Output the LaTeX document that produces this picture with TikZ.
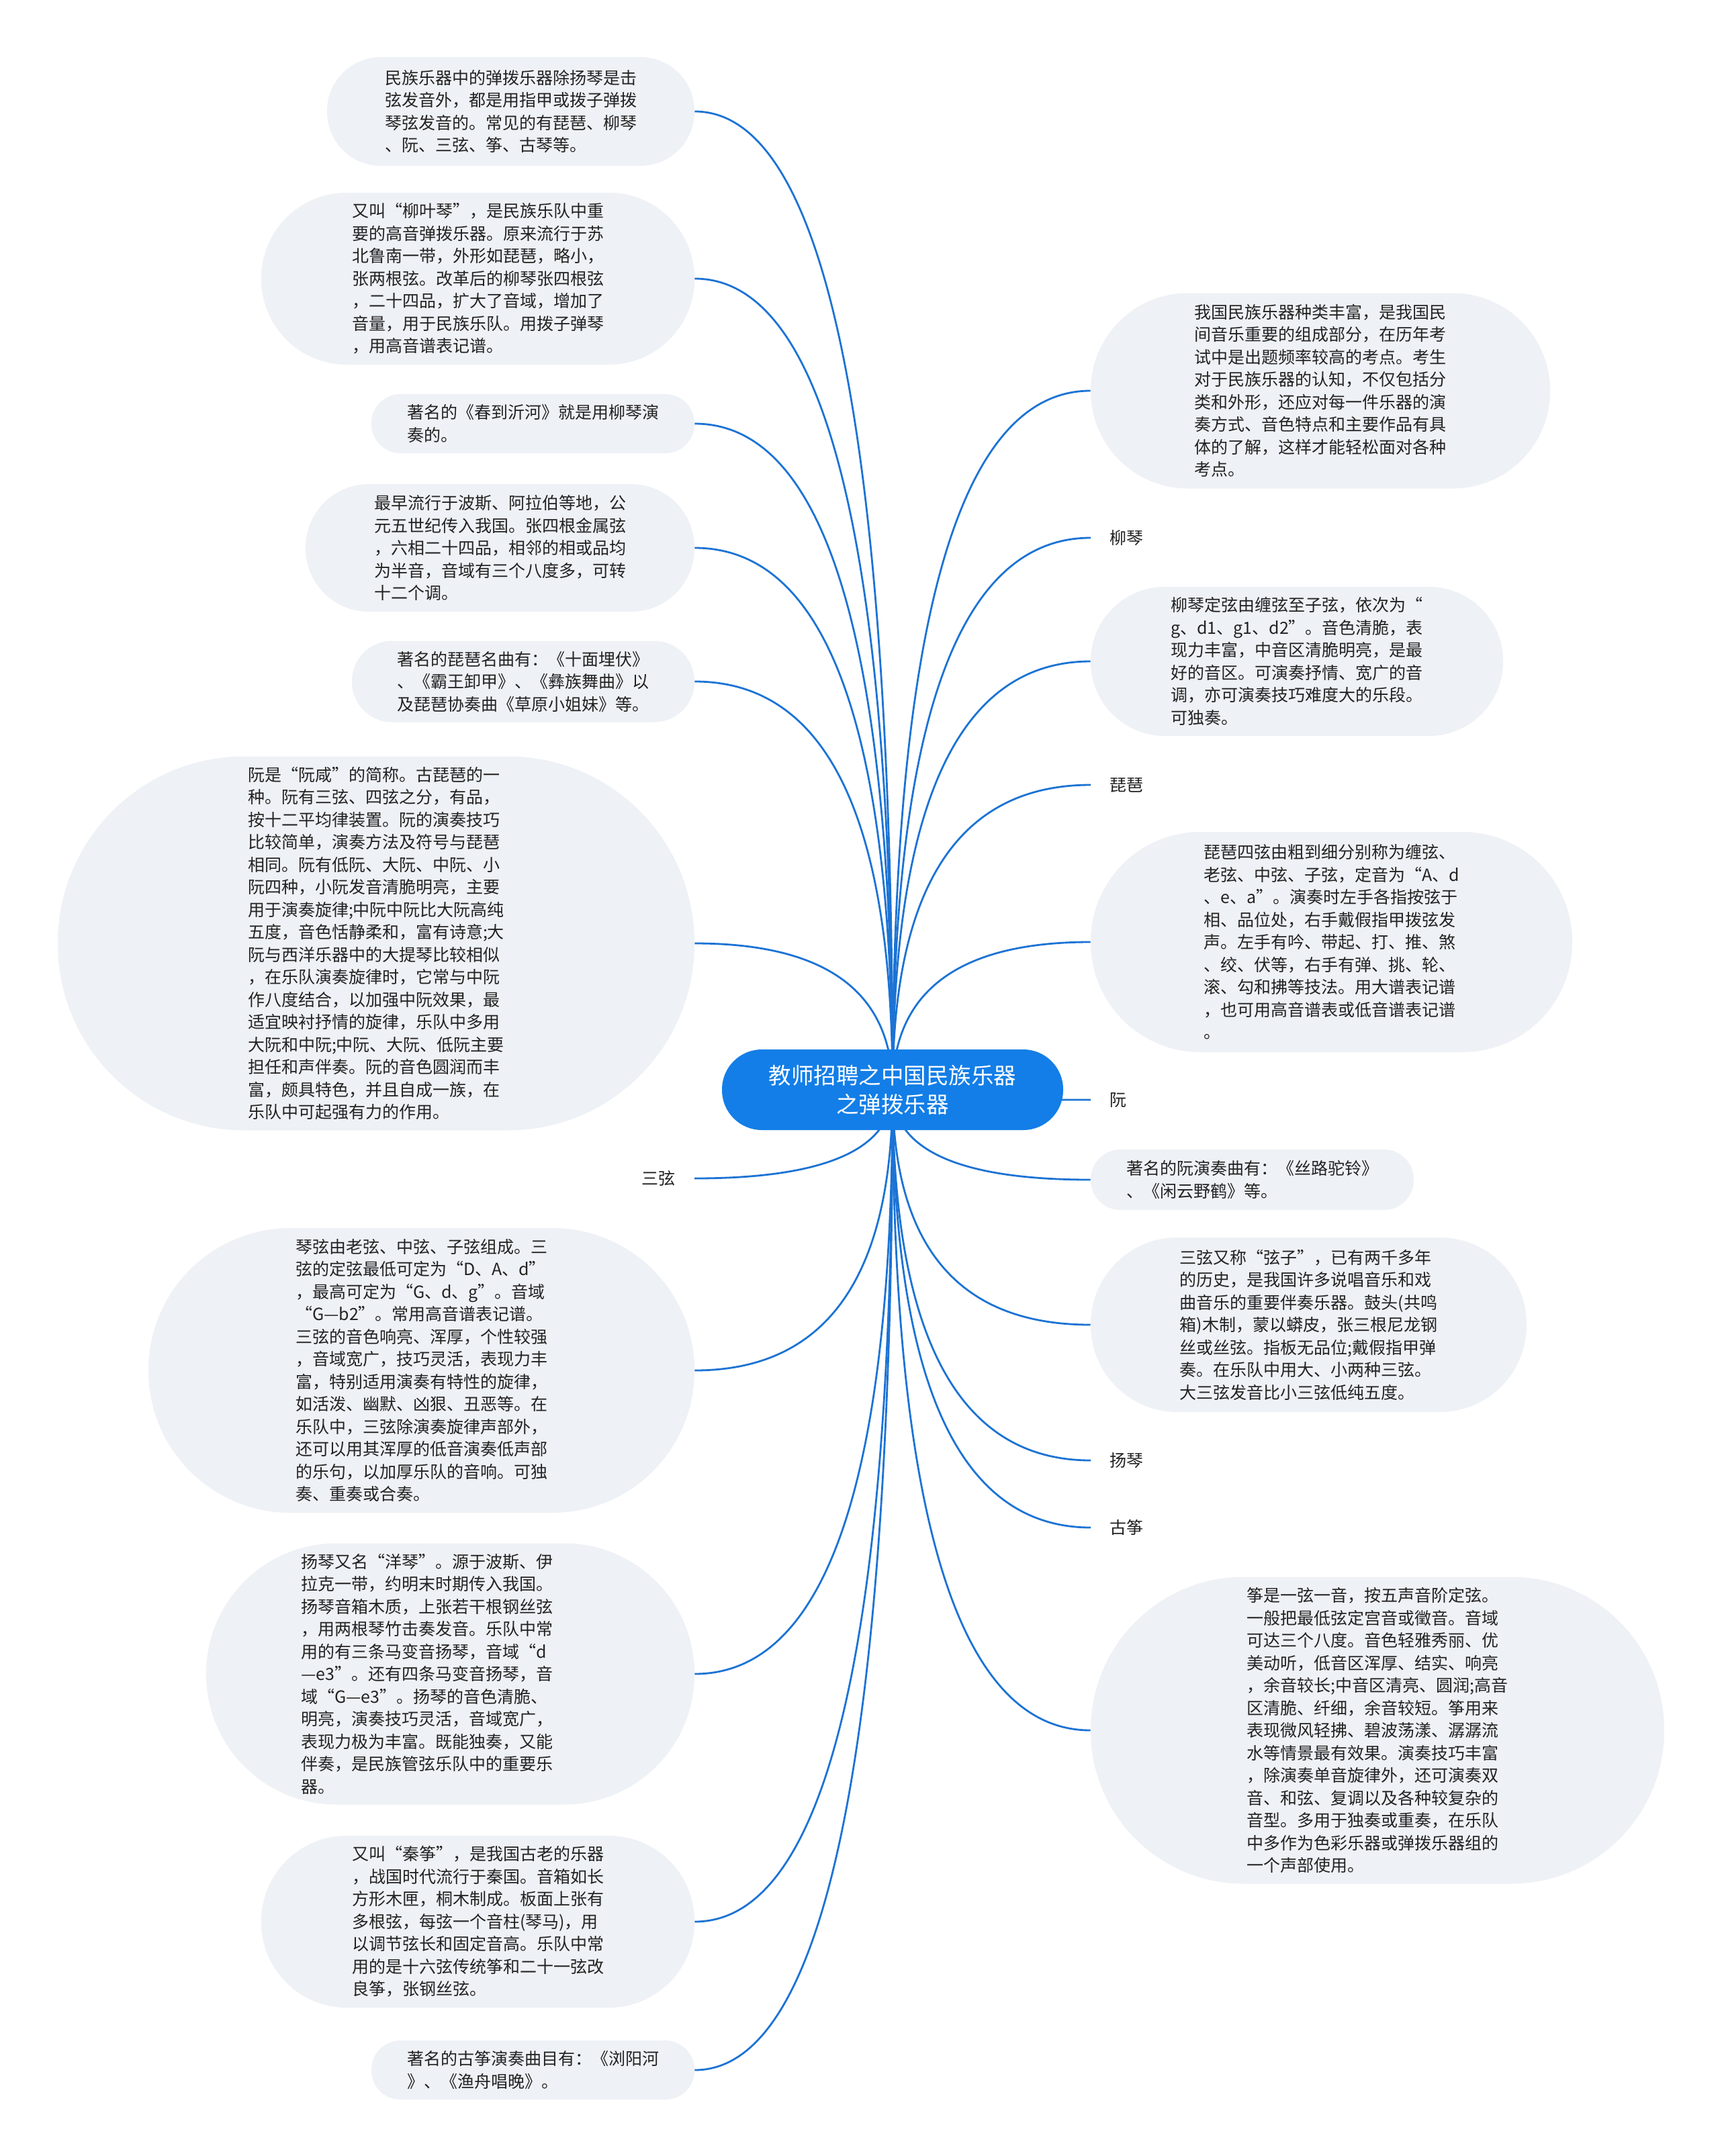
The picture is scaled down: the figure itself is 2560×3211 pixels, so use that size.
\documentclass[tikz,border=0pt]{standalone}
\usepackage{fontspec}
\newfontfamily\cjk{Noto Sans CJK SC}
\usetikzlibrary{calc}
\definecolor{boxfill}{RGB}{238,241,245}
\definecolor{linkblue}{RGB}{28,115,212}
\definecolor{rootblue}{RGB}{19,126,231}
\definecolor{txt}{RGB}{34,34,34}
\newcommand\linkto[1]{%
  \coordinate (lt) at (#1);
  \coordinate (lc) at (o |- lt);
  \draw[conn] (o) .. controls ($(o)!0.6667!(lc)$) and ($(lt)!0.6667!(lc)$) .. (lt);}
\begin{document}
\begin{tikzpicture}[x=0.5pt,y=-0.5pt,
  conn/.style={draw=linkblue,line width=1.4pt},
  topic/.style n args={2}{fill=boxfill,inner sep=0pt,align=left,text=txt,
    font=\cjk\fontsize{12.5pt}{16.75pt}\selectfont,
    minimum width=#1*0.5pt,minimum height=#2*0.5pt,rounded corners=#2*0.25pt-0.3pt},
  tag/.style={inner xsep=14pt,inner ysep=2pt,text=txt,font=\cjk\fontsize{12.5pt}{16.75pt}\selectfont},
  rootnode/.style={fill=rootblue,inner sep=0pt,align=center,text=white,
    font=\cjk\fontsize{16.75pt}{21.5pt}\selectfont,
    minimum width=254pt,minimum height=60pt,rounded corners=29.7pt}]
\useasboundingbox (0,0) rectangle (2560,3211);
\fill[white] (0,0) rectangle (2560,3211);
\coordinate (o) at (1329,1623);

% left side
\node[topic={547}{162}] (L1) at (760.5,166) {民族乐器中的弹拨乐器除扬琴是击\\弦发音外，都是用指甲或拨子弹拨\\琴弦发音的。常见的有琵琶、柳琴\\、阮、三弦、筝、古琴等。};
\node[topic={645}{256}] (L2) at (711.5,415) {又叫“柳叶琴”，是民族乐队中重\\要的高音弹拨乐器。原来流行于苏\\北鲁南一带，外形如琵琶，略小，\\张两根弦。改革后的柳琴张四根弦\\，二十四品，扩大了音域，增加了\\音量，用于民族乐队。用拨子弹琴\\，用高音谱表记谱。};
\node[topic={481}{88}] (L3) at (793.5,631) {著名的《春到沂河》就是用柳琴演\\奏的。};
\node[topic={579}{190}] (L4) at (744.5,816) {最早流行于波斯、阿拉伯等地，公\\元五世纪传入我国。张四根金属弦\\，六相二十四品，相邻的相或品均\\为半音，音域有三个八度多，可转\\十二个调。};
\node[topic={510}{121}] (L5) at (779,1015) {著名的琵琶名曲有：《十面埋伏》\\、《霸王卸甲》、《彝族舞曲》以\\及琵琶协奏曲《草原小姐妹》等。};
\node[topic={948}{557}] (L6) at (560,1405) {阮是“阮咸”的简称。古琵琶的一\\种。阮有三弦、四弦之分，有品，\\按十二平均律装置。阮的演奏技巧\\比较简单，演奏方法及符号与琵琶\\相同。阮有低阮、大阮、中阮、小\\阮四种，小阮发音清脆明亮，主要\\用于演奏旋律;中阮中阮比大阮高纯\\五度，音色恬静柔和，富有诗意;大\\阮与西洋乐器中的大提琴比较相似\\，在乐队演奏旋律时，它常与中阮\\作八度结合，以加强中阮效果，最\\适宜映衬抒情的旋律，乐队中多用\\大阮和中阮;中阮、大阮、低阮主要\\担任和声伴奏。阮的音色圆润而丰\\富，颇具特色，并且自成一族，在\\乐队中可起强有力的作用。};
\node[tag,anchor=east] (T3) at (1034,1755) {三弦};
\node[topic={813}{424}] (L7) at (627.5,2041) {琴弦由老弦、中弦、子弦组成。三\\弦的定弦最低可定为“D、A、d”\\，最高可定为“G、d、g”。音域\\“G—b2”。常用高音谱表记谱。\\三弦的音色响亮、浑厚，个性较强\\，音域宽广，技巧灵活，表现力丰\\富，特别适用演奏有特性的旋律，\\如活泼、幽默、凶狠、丑恶等。在\\乐队中，三弦除演奏旋律声部外，\\还可以用其浑厚的低音演奏低声部\\的乐句，以加厚乐队的音响。可独\\奏、重奏或合奏。};
\node[topic={727}{389}] (L8) at (670.5,2493) {扬琴又名“洋琴”。源于波斯、伊\rule{35pt}{0pt}\\拉克一带，约明末时期传入我国。\\扬琴音箱木质，上张若干根钢丝弦\\，用两根琴竹击奏发音。乐队中常\\用的有三条马变音扬琴，音域“d\\—e3”。还有四条马变音扬琴，音\\域“G—e3”。扬琴的音色清脆、\\明亮，演奏技巧灵活，音域宽广，\\表现力极为丰富。既能独奏，又能\\伴奏，是民族管弦乐队中的重要乐\\器。};
\node[topic={645}{256}] (L9) at (711.5,2862) {又叫“秦筝”，是我国古老的乐器\\，战国时代流行于秦国。音箱如长\\方形木匣，桐木制成。板面上张有\\多根弦，每弦一个音柱(琴马)，用\\以调节弦长和固定音高。乐队中常\\用的是十六弦传统筝和二十一弦改\\良筝，张钢丝弦。};
\node[topic={481}{88}] (L10) at (793.5,3083) {著名的古筝演奏曲目有：《浏阳河\\》、《渔舟唱晚》。};

% right side
\node[topic={684}{291}] (R1) at (1966,582) {我国民族乐器种类丰富，是我国民\\间音乐重要的组成部分，在历年考\\试中是出题频率较高的考点。考生\\对于民族乐器的认知，不仅包括分\\类和外形，还应对每一件乐器的演\\奏方式、音色特点和主要作品有具\\体的了解，这样才能轻松面对各种\\考点。};
\node[tag,anchor=west] (T1) at (1624,801) {柳琴};
\node[topic={614}{222}] (R2) at (1931,985) {柳琴定弦由缠弦至子弦，依次为“\\g、d1、g1、d2”。音色清脆，表\\现力丰富，中音区清脆明亮，是最\\好的音区。可演奏抒情、宽广的音\\调，亦可演奏技巧难度大的乐段。\\可独奏。};
\node[tag,anchor=west] (T2) at (1624,1169) {琵琶};
\node[topic={717}{328}] (R3) at (1982.5,1403) {琵琶四弦由粗到细分别称为缠弦、\\老弦、中弦、子弦，定音为“A、d\\、e、a”。演奏时左手各指按弦于\\相、品位处，右手戴假指甲拨弦发\\声。左手有吟、带起、打、推、煞\\、绞、伏等，右手有弹、挑、轮、\\滚、勾和拂等技法。用大谱表记谱\\，也可用高音谱表或低音谱表记谱\\。};
\node[tag,anchor=west] (T4) at (1624,1638) {阮};
\node[topic={481}{90}] (R4) at (1864.5,1757) {著名的阮演奏曲有：《丝路驼铃》\\、《闲云野鹤》等。};
\node[topic={649}{260}] (R5) at (1948.5,1973) {三弦又称“弦子”，已有两千多年\\的历史，是我国许多说唱音乐和戏\\曲音乐的重要伴奏乐器。鼓头(共鸣\\箱)木制，蒙以蟒皮，张三根尼龙钢\\丝或丝弦。指板无品位;戴假指甲弹\\奏。在乐队中用大、小两种三弦。\\大三弦发音比小三弦低纯五度。};
\node[tag,anchor=west] (T5) at (1624,2175) {扬琴};
\node[tag,anchor=west] (T6) at (1624,2275) {古筝};
\node[topic={854}{457}] (R6) at (2051,2577) {筝是一弦一音，按五声音阶定弦。\\一般把最低弦定宫音或徵音。音域\\可达三个八度。音色轻雅秀丽、优\\美动听，低音区浑厚、结实、响亮\\，余音较长;中音区清亮、圆润;高音\\区清脆、纤细，余音较短。筝用来\\表现微风轻拂、碧波荡漾、潺潺流\\水等情景最有效果。演奏技巧丰富\\，除演奏单音旋律外，还可演奏双\\音、和弦、复调以及各种较复杂的\\音型。多用于独奏或重奏，在乐队\\中多作为色彩乐器或弹拨乐器组的\\一个声部使用。};

% connectors
\linkto{L1.east}
\linkto{L2.east}
\linkto{L3.east}
\linkto{L4.east}
\linkto{L5.east}
\linkto{L6.east}
\linkto{T3.east}
\linkto{L7.east}
\linkto{L8.east}
\linkto{L9.east}
\linkto{L10.east}
\linkto{R1.west}
\linkto{T1.west}
\linkto{R2.west}
\linkto{T2.west}
\linkto{R3.west}
\linkto{T4.west}
\linkto{R4.west}
\linkto{R5.west}
\linkto{T5.west}
\linkto{T6.west}
\linkto{R6.west}

\node[rootnode] (root) at (o) {教师招聘之中国民族乐器\\之弹拨乐器};
\end{tikzpicture}
\end{document}
